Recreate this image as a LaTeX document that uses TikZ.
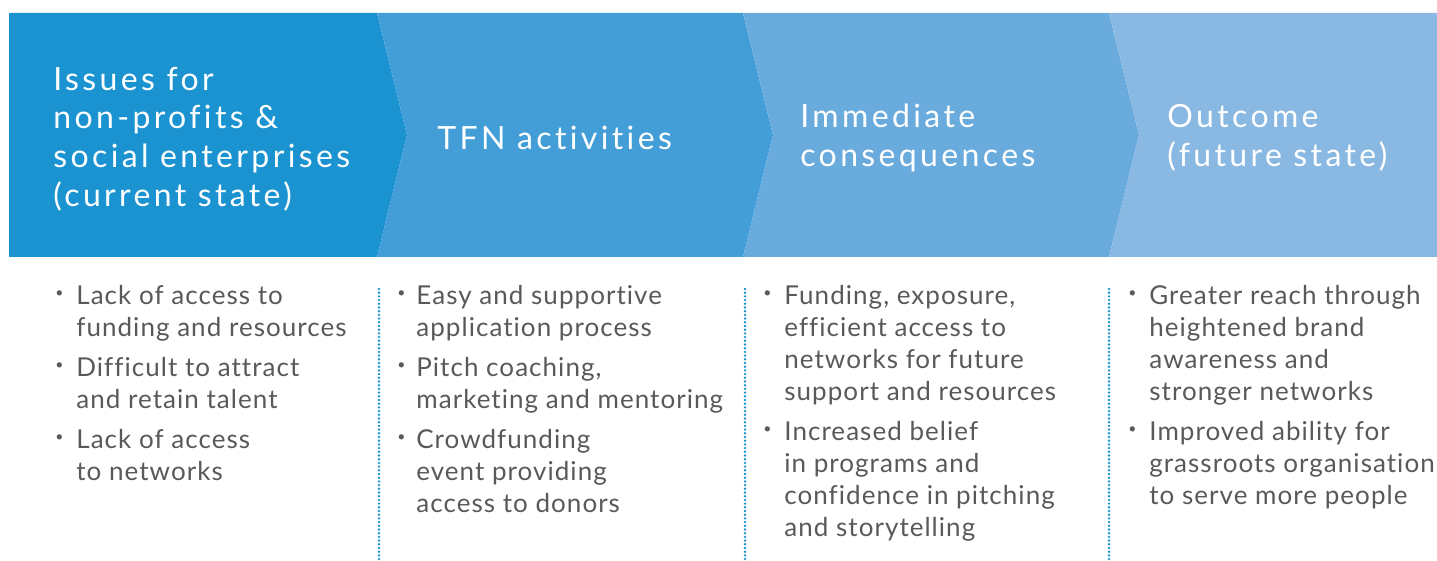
\documentclass[tikz,border=0pt]{standalone}
\usepackage{fontspec}
\setmainfont{Lato}[LetterSpace=4, Ligatures=NoCommon]
\newfontfamily\headfont[LetterSpace=10.5, Ligatures=NoCommon]{Lato}
\usetikzlibrary{positioning}
\definecolor{chevA}{HTML}{1C93D1}
\definecolor{chevB}{HTML}{439ED7}
\definecolor{chevC}{HTML}{6AABDD}
\definecolor{chevD}{HTML}{89B8E2}
\definecolor{bodygray}{HTML}{58595B}
\newcommand{\bul}{\raisebox{3.6pt}{\fontsize{7}{7}\selectfont\textbullet}}
\tikzset{
  head/.style={anchor=west, inner sep=0pt, align=left, text=white,
    font=\headfont\fontsize{16}{19.3}\selectfont},
  bullets/.style={anchor=base west, inner sep=0pt, text=bodygray,
    font=\fontsize{13}{16}\selectfont},
  sep/.style={chevA, line width=1.35pt, line cap=round, dash pattern=on 0pt off 1.85pt}
}
\begin{document}
\begin{tikzpicture}[x=0.5pt, y=-0.5pt]
  \useasboundingbox (0,0) rectangle (1437,561);
  % Draw chevrons
  \fill[chevA] (9,13) -- (377,13) -- (407,135) -- (377,257) -- (9,257) -- cycle;
  \foreach \a/\b/\c in {377/743/chevB, 743/1109/chevC} {
    \fill[\c] (\a,13) -- (\b,13) -- (\b+30,135) -- (\b,257) -- (\a,257) -- (\a+30,135) -- cycle;
  }
  \fill[chevD] (1109,13) -- (1437,13) -- (1437,257) -- (1109,257) -- (1139,135) -- cycle;
  % Headings
  \node[head] (issues) at (53,139) {Issues for\\non-profits \&\\social enterprises\\(current state)};
  \node[head] (tfn) at (437,138) {TFN activities};
  \node[head] (immediate) at (800,138) {Immediate\\consequences};
  \node[head] (outcome) at (1167,138) {Outcome\\(future state)};
  % Separators
  \foreach \x in {379,745,1109} {
    \draw[sep] (\x,289) -- (\x,561);
  }
  % Bullet lists
  \node[bullets] (issuelist) at (55,305) {\begin{tabular}[t]{@{}p{10.5pt}@{}l@{}}
    \bul & Lack of access to\\ & funding and resources\\[4pt]
    \bul & Difficult to attract\\ & and retain talent\\[4pt]
    \bul & Lack of access\\ & to networks
  \end{tabular}};
  \node[bullets] (tfnlist) at (397,305) {\begin{tabular}[t]{@{}p{9.5pt}@{}l@{}}
    \bul & Easy and supportive\\ & application process\\[4pt]
    \bul & Pitch coaching,\\ & marketing and mentoring\\[4pt]
    \bul & Crowdfunding\\ & event providing\\ & access to donors
  \end{tabular}};
  \node[bullets] (immlist) at (763,305) {\begin{tabular}[t]{@{}p{10.5pt}@{}l@{}}
    \bul & Funding, exposure,\\ & efficient access to\\ & networks for future\\ & support and resources\\[4pt]
    \bul & Increased belief\\ & in programs and\\ & confidence in pitching\\ & and storytelling
  \end{tabular}};
  \node[bullets] (outlist) at (1128,305) {\begin{tabular}[t]{@{}p{10.5pt}@{}l@{}}
    \bul & Greater reach through\\ & heightened brand\\ & awareness and\\ & stronger networks\\[4pt]
    \bul & Improved ability for\\ & grassroots organisations\\ & to serve more people
  \end{tabular}};
\end{tikzpicture}
\end{document}
